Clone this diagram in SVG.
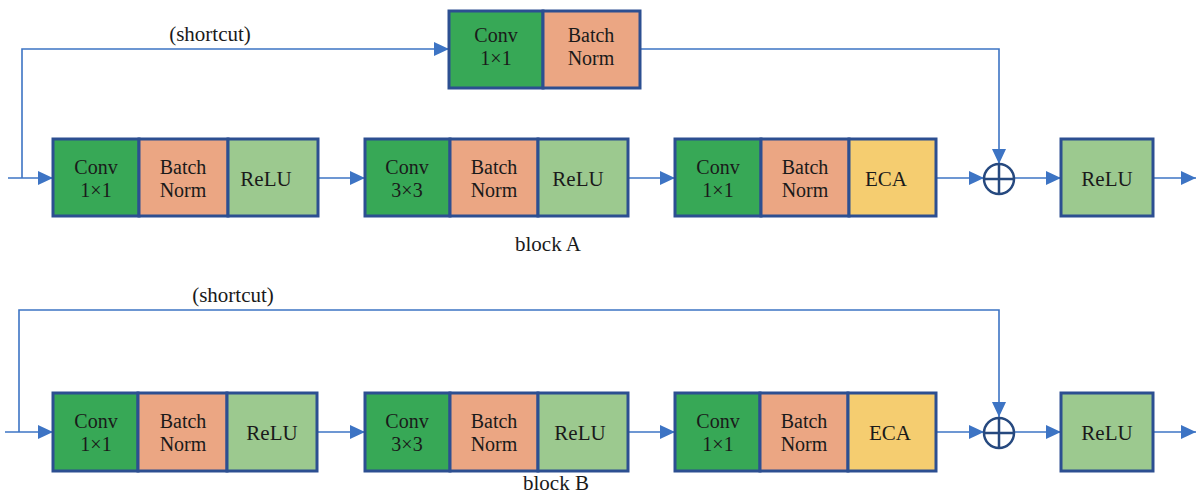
<svg xmlns="http://www.w3.org/2000/svg" width="1197" height="493" viewBox="0 0 1197 493">
<style>
.c{fill:#37a856}.b{fill:#eba683}.r{fill:#9cc98f}.e{fill:#f5cd70}
.cell{stroke:#2c4f91;stroke-width:3}
text{font-family:"Liberation Serif","DejaVu Serif",serif;font-size:21px;fill:#1a1a1a;text-anchor:middle}
.t2{font-size:20px}
.ln{fill:none;stroke:#3d74c4;stroke-width:1.6}
.ar{marker-end:url(#ah)}
.plus{fill:#fff;stroke:#26497f;stroke-width:2.5}
</style>
<defs>
<marker id="ah" markerUnits="userSpaceOnUse" markerWidth="16" markerHeight="14" refX="15" refY="7" orient="auto">
<path d="M0,0 L15,7 L0,14 z" fill="#3d74c4"/>
</marker>
</defs>

<g id="connectors">
<path class="ln ar" d="M8,178 H53"/>
<path class="ln ar" d="M22,178 V49 H449"/>
<path class="ln ar" d="M640,49 H999 V164"/>
<path class="ln ar" d="M318,178 H365"/>
<path class="ln ar" d="M628,178 H675"/>
<path class="ln ar" d="M936,178 H984"/>
<path class="ln ar" d="M1014,178 H1061"/>
<path class="ln ar" d="M1153,178 H1196"/>
<path class="ln ar" d="M5,432 H53"/>
<path class="ln ar" d="M19,432 V310 H999 V417"/>
<path class="ln ar" d="M318,432 H365"/>
<path class="ln ar" d="M628,432 H675"/>
<path class="ln ar" d="M936,432 H984"/>
<path class="ln ar" d="M1014,432 H1061"/>
<path class="ln ar" d="M1153,432 H1196"/>
</g>

<text x="210" y="41">(shortcut)</text>
<text x="233" y="302">(shortcut)</text>
<text x="548" y="251">block A</text>
<text x="556" y="490">block B</text>

<g id="A_shortcut_bn">
<rect class="c cell" x="449" y="11" width="94" height="77"/>
<rect class="b cell" x="543" y="11" width="97" height="77"/>
<text class="t2" x="496" y="42">Conv</text><text class="t2" x="496" y="65">1×1</text>
<text class="t2" x="591" y="42">Batch</text><text class="t2" x="591" y="65">Norm</text>
</g>
<g id="A_g1">
<rect class="c cell" x="53" y="139" width="86" height="77"/>
<rect class="b cell" x="139" y="139" width="89" height="77"/>
<rect class="r cell" x="228" y="139" width="90" height="77"/>
<text class="t2" x="96" y="174">Conv</text><text class="t2" x="96" y="197">1×1</text>
<text class="t2" x="183" y="174">Batch</text><text class="t2" x="183" y="197">Norm</text>
<text x="266" y="186">ReLU</text>
</g>
<g id="A_g2">
<rect class="c cell" x="365" y="139" width="85" height="77"/>
<rect class="b cell" x="450" y="139" width="88" height="77"/>
<rect class="r cell" x="538" y="139" width="90" height="77"/>
<text class="t2" x="407" y="174">Conv</text><text class="t2" x="407" y="197">3×3</text>
<text class="t2" x="494" y="174">Batch</text><text class="t2" x="494" y="197">Norm</text>
<text x="578" y="186">ReLU</text>
</g>
<g id="A_g3">
<rect class="c cell" x="675" y="139" width="86" height="77"/>
<rect class="b cell" x="761" y="139" width="88" height="77"/>
<rect class="e cell" x="849" y="139" width="87" height="77"/>
<text class="t2" x="718" y="174">Conv</text><text class="t2" x="718" y="197">1×1</text>
<text class="t2" x="805" y="174">Batch</text><text class="t2" x="805" y="197">Norm</text>
<text x="886" y="186">ECA</text>
</g>
<g id="A_add">
<circle class="plus" cx="999" cy="179" r="15"/>
<path d="M984,179 H1014 M999,164 V194" stroke="#26497f" stroke-width="2.5"/>
</g>
<g id="A_relu">
<rect class="r cell" x="1061" y="139" width="92" height="77"/>
<text x="1107" y="186">ReLU</text>
</g>

<g id="B_g1">
<rect class="c cell" x="53" y="393" width="85" height="78"/>
<rect class="b cell" x="138" y="393" width="89" height="78"/>
<rect class="r cell" x="227" y="393" width="90" height="78"/>
<text class="t2" x="96" y="428">Conv</text><text class="t2" x="96" y="451">1×1</text>
<text class="t2" x="183" y="428">Batch</text><text class="t2" x="183" y="451">Norm</text>
<text x="272" y="440">ReLU</text>
</g>
<g id="B_g2">
<rect class="c cell" x="365" y="393" width="85" height="78"/>
<rect class="b cell" x="450" y="393" width="88" height="78"/>
<rect class="r cell" x="538" y="393" width="90" height="78"/>
<text class="t2" x="407" y="428">Conv</text><text class="t2" x="407" y="451">3×3</text>
<text class="t2" x="494" y="428">Batch</text><text class="t2" x="494" y="451">Norm</text>
<text x="580" y="440">ReLU</text>
</g>
<g id="B_g3">
<rect class="c cell" x="675" y="393" width="85" height="78"/>
<rect class="b cell" x="760" y="393" width="88" height="78"/>
<rect class="e cell" x="848" y="393" width="88" height="78"/>
<text class="t2" x="718" y="428">Conv</text><text class="t2" x="718" y="451">1×1</text>
<text class="t2" x="804" y="428">Batch</text><text class="t2" x="804" y="451">Norm</text>
<text x="890" y="440">ECA</text>
</g>
<g id="B_add">
<circle class="plus" cx="999" cy="433" r="15"/>
<path d="M984,433 H1014 M999,418 V448" stroke="#26497f" stroke-width="2.5"/>
</g>
<g id="B_relu">
<rect class="r cell" x="1061" y="393" width="92" height="78"/>
<text x="1107" y="440">ReLU</text>
</g>
</svg>
